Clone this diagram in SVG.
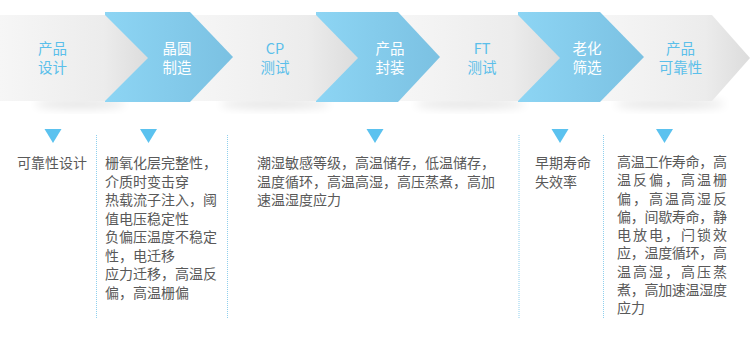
<svg xmlns="http://www.w3.org/2000/svg" width="750" height="344" viewBox="0 0 750 344">
<defs>
<linearGradient id="gGray" x1="0" y1="0" x2="1" y2="0">
<stop offset="0" stop-color="#f6f6f6"/>
<stop offset="0.7" stop-color="#ececec"/>
<stop offset="1" stop-color="#dcdcdc"/>
</linearGradient>
<linearGradient id="gBlue" x1="0" y1="0" x2="1" y2="0">
<stop offset="0" stop-color="#8dd5f4"/>
<stop offset="1" stop-color="#7bc1e2"/>
</linearGradient>
<filter id="blur" x="-50%" y="-50%" width="200%" height="200%">
<feGaussianBlur stdDeviation="5"/>
</filter>
<polygon id="tri" points="-8.5,129 8.5,129 0,143"/>
</defs>
<style>
.gray{fill:url(#gGray);}
.blue{fill:url(#gBlue);}
.shadow{fill:#000;opacity:0.10;filter:url(#blur);}
.lblB{font-family:"Noto Sans CJK SC","Noto Sans",sans-serif;font-size:14.5px;fill:#5bbfea;text-anchor:middle;}
.lblW{font-family:"Noto Sans CJK SC","Noto Sans",sans-serif;font-size:14.5px;fill:#ffffff;text-anchor:middle;}
.tri{fill:#5bc2ef;}
.desc{font-family:"Noto Sans CJK SC","Noto Sans",sans-serif;font-size:14px;fill:#595959;}
.sep{stroke:#8fd0ee;stroke-width:1;stroke-dasharray:1 1;fill:none;}
</style>

<g id="shadows">
<ellipse class="shadow" cx="80" cy="104" rx="45" ry="5"/>
<ellipse class="shadow" cx="275" cy="104" rx="55" ry="5"/>
<ellipse class="shadow" cx="470" cy="104" rx="55" ry="5"/>
<ellipse class="shadow" cx="670" cy="104" rx="55" ry="5"/>
</g>

<g id="step7">
<polygon class="gray" points="600,15 712,15 750,58 712,101 600,101"/>
<text class="lblB" x="680.5" y="53.5">产品</text>
<text class="lblB" x="680.5" y="72.5">可靠性</text>
</g>
<g id="step6">
<polygon class="blue" points="518,12 600,12 644,57 600,102 518,102"/>
<text class="lblW" x="587" y="53.5">老化</text>
<text class="lblW" x="587" y="72.5">筛选</text>
</g>
<g id="step5">
<polygon class="gray" points="398,15 518,15 560,58 518,101 398,101"/>
<text class="lblB" x="482" y="53.5">FT</text>
<text class="lblB" x="482" y="72.5">测试</text>
</g>
<g id="step4">
<polygon class="blue" points="316,12 398,12 440,57 398,102 316,102"/>
<text class="lblW" x="390" y="53.5">产品</text>
<text class="lblW" x="390" y="72.5">封装</text>
</g>
<g id="step3">
<polygon class="gray" points="190,15 316,15 358,58 316,101 190,101"/>
<text class="lblB" x="275" y="53.5">CP</text>
<text class="lblB" x="275" y="72.5">测试</text>
</g>
<g id="step2">
<polygon class="blue" points="105,12 190,12 233,57 190,102 105,102"/>
<text class="lblW" x="177" y="53.5">晶圆</text>
<text class="lblW" x="177" y="72.5">制造</text>
</g>
<g id="step1">
<polygon class="gray" points="0,15 105,15 148,58 105,101 0,101"/>
<text class="lblB" x="52.5" y="53.5">产品</text>
<text class="lblB" x="52.5" y="72.5">设计</text>
</g>

<g id="connectors">
<line class="sep" x1="96.5" y1="135" x2="96.5" y2="318"/>
<line class="sep" x1="227.5" y1="135" x2="227.5" y2="318"/>
<line class="sep" x1="519" y1="135" x2="519" y2="318"/>
<line class="sep" x1="603.5" y1="135" x2="603.5" y2="318"/>
<use href="#tri" class="tri" x="53"/>
<use href="#tri" class="tri" x="148.5"/>
<use href="#tri" class="tri" x="375"/>
<use href="#tri" class="tri" x="560"/>
<use href="#tri" class="tri" x="664.5"/>
</g>

<g id="desc1">
<text class="desc" x="17" y="168">可靠性设计</text>
</g>
<g id="desc2">
<text class="desc" x="105" y="168">栅氧化层完整性，</text>
<text class="desc" x="105" y="186.5">介质时变击穿</text>
<text class="desc" x="105" y="205">热载流子注入，阈</text>
<text class="desc" x="105" y="223.5">值电压稳定性</text>
<text class="desc" x="105" y="242">负偏压温度不稳定</text>
<text class="desc" x="105" y="260.5">性，电迁移</text>
<text class="desc" x="105" y="279">应力迁移，高温反</text>
<text class="desc" x="105" y="297.5">偏，高温栅偏</text>
</g>
<g id="desc3">
<text class="desc" x="257" y="168">潮湿敏感等级，高温储存，低温储存，</text>
<text class="desc" x="257" y="186.5">温度循环，高温高湿，高压蒸煮，高加</text>
<text class="desc" x="257" y="205">速温湿度应力</text>
</g>
<g id="desc4">
<text class="desc" x="535" y="168">早期寿命</text>
<text class="desc" x="535" y="186.5">失效率</text>
</g>
<g id="desc5">
<text class="desc" x="617" y="167" textLength="110" lengthAdjust="spacing">高温工作寿命，高</text>
<text class="desc" x="617" y="185.25" textLength="110" lengthAdjust="spacing">温反偏，高温栅</text>
<text class="desc" x="617" y="203.5" textLength="110" lengthAdjust="spacing">偏，高温高湿反</text>
<text class="desc" x="617" y="221.75" textLength="110" lengthAdjust="spacing">偏，间歇寿命，静</text>
<text class="desc" x="617" y="240" textLength="110" lengthAdjust="spacing">电放电，闩锁效</text>
<text class="desc" x="617" y="258.25" textLength="110" lengthAdjust="spacing">应，温度循环，高</text>
<text class="desc" x="617" y="276.5" textLength="110" lengthAdjust="spacing">温高湿，高压蒸</text>
<text class="desc" x="617" y="294.75" textLength="110" lengthAdjust="spacing">煮，高加速温湿度</text>
<text class="desc" x="617" y="313">应力</text>
</g>
</svg>
